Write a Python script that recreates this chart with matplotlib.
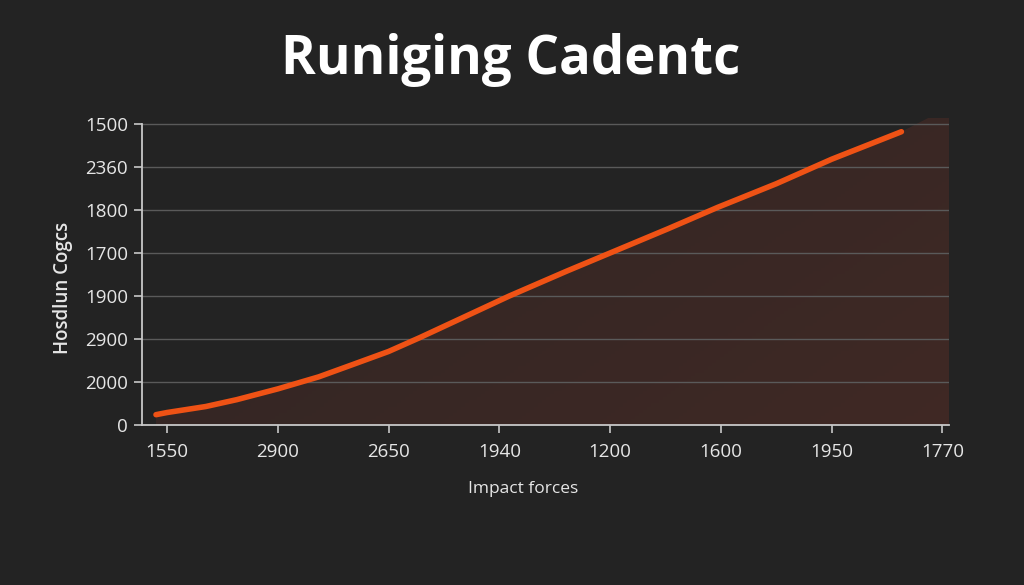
import matplotlib.pyplot as plt
import numpy as np
from matplotlib.patches import Polygon

# categorical tick labels (as printed on the chart)
x_labels = ["1550", "2900", "2650", "1940", "1200", "1600", "1950", "1770"]
y_labels = ["0", "2000", "2900", "1900", "1700", "1800", "2360", "1500"]

# curve, in tick-index units
curve_x = [-0.10, 0.0, 0.35, 0.63, 1.0, 1.37, 1.67, 2.0, 2.28, 3.09, 3.61,
           4.0, 4.52, 4.97, 5.5, 6.0, 6.63]
curve_y = [0.24, 0.29, 0.43, 0.59, 0.84, 1.12, 1.40, 1.71, 2.03, 3.0, 3.58,
           4.0, 4.56, 5.06, 5.61, 6.18, 6.82]

BG = "#232323"
LINE = "#ef5215"
TXT = "#e6e6e6"

plt.rcParams['font.family'] = ['Open Sans', 'DejaVu Sans']

fig = plt.figure(figsize=(10.24, 5.85), dpi=100, facecolor=BG)
ax = fig.add_axes([0.1387, 0.2735, 0.7881, 0.5256], facecolor=BG)

xmin, xmax = -0.226, 7.06
ymin, ymax = 0, 7.15
ax.set_xlim(xmin, xmax)
ax.set_ylim(ymin, ymax)

# gradient fill under the curve (and a little to the right of its end)
poly_pts = [(curve_x[0], 0)] + list(zip(curve_x, curve_y)) + \
           [(curve_x[-1] + 0.25, ymax), (xmax, ymax), (xmax, 0)]
clip = Polygon(poly_pts, closed=True, transform=ax.transData)
gx = np.linspace(0, 1, 200)
gy = np.linspace(0, 1, 100)
GX, GY = np.meshgrid(gx, gy)
img = np.zeros((100, 200, 4))
img[..., 0] = 0.33
img[..., 1] = 0.18
img[..., 2] = 0.15
img[..., 3] = 0.25 + 0.22 * GX + 0.12 * (1 - GY)
im = ax.imshow(img, extent=[xmin, xmax, ymin, ymax], origin='lower',
               aspect='auto', zorder=1)
im.set_clip_path(clip)

for yv in range(1, 8):
    ax.axhline(yv, color="#5a5a5a", lw=1.0, zorder=2)

ax.plot(curve_x, curve_y, color=LINE, lw=4, solid_capstyle='round',
        solid_joinstyle='round', zorder=4)

ax.set_xticks(range(len(x_labels)))
ax.set_xticklabels(x_labels)
ax.set_yticks(range(len(y_labels)))
ax.set_yticklabels(y_labels)
ax.tick_params(colors="#c8c8c8", labelcolor=TXT, labelsize=13.5, length=6, width=1.2)
ax.tick_params(axis='x', pad=7)
ax.tick_params(axis='y', pad=4)

for s in ["top", "right"]:
    ax.spines[s].set_visible(False)
for s in ["left", "bottom"]:
    ax.spines[s].set_color("#c8c8c8")
    ax.spines[s].set_linewidth(1.3)
ax.spines["left"].set_bounds(0, 7)

fig.text(0.499, 0.898, "Runiging Cadentc", color="white", fontsize=38,
         fontweight="bold", ha="center", va="center")
fig.text(0.062, 0.508, "Hosdlun Cogcs", color=TXT, fontsize=13.5,
         fontweight="semibold", rotation=90, ha="center", va="center")
fig.text(0.511, 0.164, "Impact forces", color=TXT, fontsize=12.5,
         ha="center", va="center")

fig.savefig("out.png", dpi=100, facecolor=BG)
